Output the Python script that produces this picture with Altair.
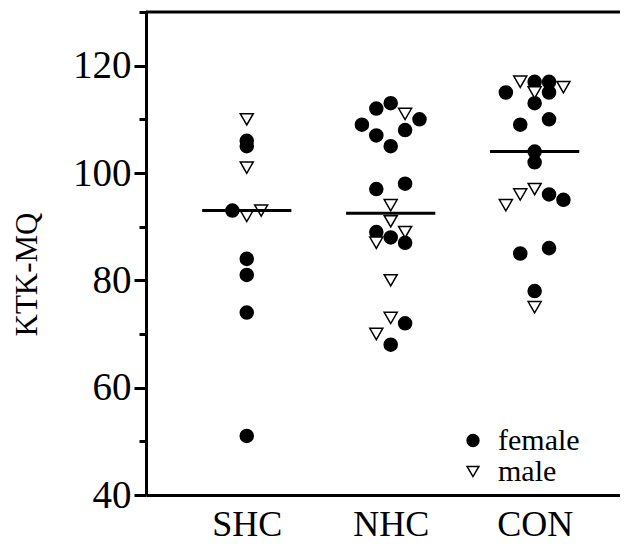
import altair as alt
import pandas as pd

# ---- data ----
groups = ["SHC", "NHC", "CON"]
group_pos = [1, 2, 3]
medians = [93, 92.5, 104]

shc_female = [106, 105, 93, 84, 81, 74, 51]
shc_female_off = [0, 0, -0.1, 0, 0, 0, 0]
shc_male = [110, 101, 92, 93]
shc_male_off = [0, 0, 0, 0.1]

nhc_female = [112, 113, 110, 109, 107, 108, 105, 98, 97, 89, 88, 87, 72, 68]
nhc_female_off = [-0.1, 0, 0.2, -0.2, -0.1, 0.1, 0, 0.1, -0.1, -0.1, 0, 0.1, 0.1, 0]
nhc_male = [111, 94, 91, 89, 87, 80, 73, 70]
nhc_male_off = [0.1, 0, 0, 0.1, -0.1, 0, 0, -0.1]

con_female = [117, 117, 115, 115, 113, 109, 110, 104, 102, 96, 95, 85, 86, 78]
con_female_off = [0, 0.1, -0.2, 0.1, 0, -0.1, 0.1, 0, 0, 0.1, 0.2, -0.1, 0.1, 0]
con_male = [117, 116, 115, 97, 96, 94, 75]
con_male_off = [-0.1, 0.2, 0, 0, -0.1, -0.2, 0]

y_ticks = [40, 60, 80, 100, 120]
y_minor = [50, 70, 90, 110, 130]
y_domain = [40, 130]
x_domain = [0.30, 3.593]

series = [
    ("SHC", "female", shc_female, shc_female_off),
    ("SHC", "male", shc_male, shc_male_off),
    ("NHC", "female", nhc_female, nhc_female_off),
    ("NHC", "male", nhc_male, nhc_male_off),
    ("CON", "female", con_female, con_female_off),
    ("CON", "male", con_male, con_male_off),
]
rows = []
for g, sex, vals, offs in series:
    p = group_pos[groups.index(g)]
    for v, o in zip(vals, offs):
        rows.append({"group": g, "sex": sex, "value": v, "xpos": p + o})
df = pd.DataFrame(rows)

med_df = pd.DataFrame({"group": groups, "pos": group_pos, "median": medians})
top_df = pd.DataFrame({"top": [y_domain[1]]})

FONT = "Liberation Serif"
label_expr = "[" + ",".join("'%s'" % g for g in groups) + "][round(datum.value) - 1]"

xscale = alt.Scale(domain=x_domain, nice=False, zero=False)
yscale = alt.Scale(domain=y_domain, nice=False, zero=False)

xaxis = alt.Axis(values=group_pos, labelExpr=label_expr, ticks=False, grid=False,
                 domainColor="black", domainWidth=3, labelFont=FONT, labelFontSize=36,
                 labelColor="black", labelPadding=12, title=None)
yaxis = alt.Axis(values=y_ticks, grid=False, tickSize=12, tickWidth=3, tickColor="black",
                 domainColor="black", domainWidth=3, labelFont=FONT, labelFontSize=39,
                 labelColor="black", labelPadding=3, title="KTK-MQ", titleFont=FONT,
                 titleFontSize=31, titleFontWeight="normal", titleColor="black",
                 titlePadding=29, titleY=262)

sex_domain = ["female", "male"]
points = alt.Chart(df).mark_point(filled=True, size=170, strokeWidth=1.5,
                                  opacity=1).encode(
    x=alt.X("xpos:Q", scale=xscale, axis=xaxis),
    y=alt.Y("value:Q", scale=yscale, axis=yaxis),
    shape=alt.Shape("sex:N", scale=alt.Scale(domain=sex_domain,
                                             range=["circle", "triangle-down"]),
                    legend=alt.Legend(title=None, orient="none", legendX=312, legendY=417,
                                      labelFont=FONT, labelFontSize=30, labelColor="black",
                                      symbolSize=140, symbolStrokeWidth=1.5,
                                      clipHeight=23, rowPadding=0, labelOffset=10)),
    fill=alt.Fill("sex:N", scale=alt.Scale(domain=sex_domain, range=["black", "white"])),
    stroke=alt.Stroke("sex:N", scale=alt.Scale(domain=sex_domain, range=["black", "black"])),
)

median_rules = alt.Chart(med_df).transform_calculate(
    x1="datum.pos - 0.31", x2="datum.pos + 0.31"
).mark_rule(strokeWidth=3, color="black").encode(
    x=alt.X("x1:Q", scale=xscale),
    x2="x2:Q",
    y=alt.Y("median:Q", scale=yscale, axis=None),
)

top_rule = alt.Chart(top_df).mark_rule(strokeWidth=3, color="black").encode(
    y=alt.Y("top:Q", scale=yscale,
            axis=alt.Axis(values=y_minor, labels=False, tickSize=7, tickWidth=3,
                          tickColor="black", domain=False, grid=False, orient="left",
                          title=None)),
)

chart = alt.layer(points, median_rules, top_rule).resolve_axis(y="independent").properties(
    width=474, height=483,
    autosize=alt.AutoSizeParams(type="none"),
    padding={"left": 138, "top": 4, "right": 0, "bottom": 47},
    background="white",
).configure_view(stroke=None)

chart.save("out.html", embed_options={"renderer": "svg", "actions": False})
